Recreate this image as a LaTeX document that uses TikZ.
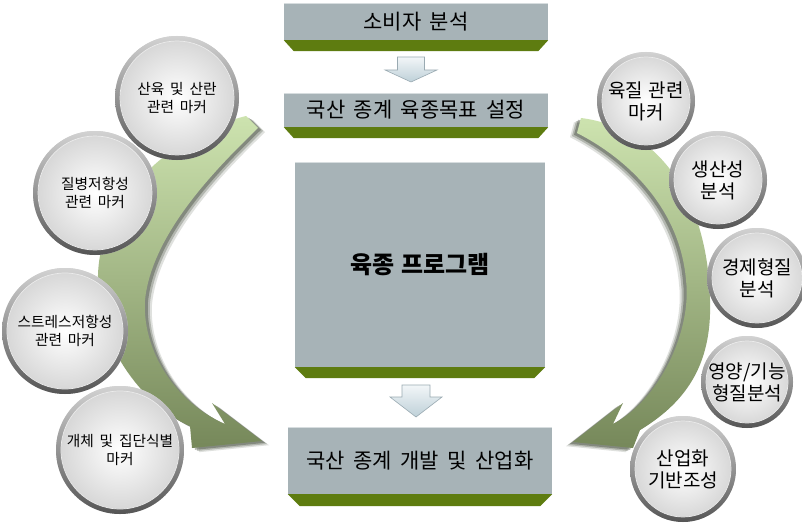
\documentclass[tikz,border=0pt]{standalone}
\usepackage{fontspec}
\setmainfont{Noto Sans CJK KR}
\usetikzlibrary{calc}
\definecolor{boxgray}{HTML}{A7B3B7}
\definecolor{bandgreen}{HTML}{5E7C10}
\definecolor{lgreen}{HTML}{CDE3AF}
\definecolor{mgreen}{HTML}{A9C28A}
\definecolor{dgreen}{HTML}{76885A}
\definecolor{shadowc}{HTML}{2E3824}
\definecolor{arrtop}{HTML}{F2F6F8}
\definecolor{arrbot}{HTML}{BED0D8}
\definecolor{arredge}{HTML}{9AAAB2}
\definecolor{rimlight}{HTML}{D2D2D2}
\definecolor{rimdark}{HTML}{555555}
\definecolor{discout}{HTML}{D4D4D4}
\newcommand\boxfnt{\fontsize{21}{25}\selectfont\spaceskip=0.4em\relax}
\newcommand\bigfnt{\fontsize{24}{28}\selectfont\bfseries\spaceskip=0.3em\relax}
\newcommand\cfntl{\fontsize{14.7}{18}\selectfont\spaceskip=0.4em\relax}
\newcommand\cfntr{\fontsize{19}{22}\selectfont\spaceskip=0.3em\relax}
\def\LApath{(246,116) -- (258,128) .. controls (220,165) and (152,232) .. (145,300) .. controls (142,345) and (170,400) .. (225,424) -- (212,403) -- (262,441) -- (192,448) -- (190,426) .. controls (140,405) and (92,335) .. (98,275) .. controls (100,200) and (170,135) .. (246,116) -- cycle}
\def\RApath{(581,118) -- (577,133) .. controls (630,160) and (680,210) .. (686,280) .. controls (692,330) and (660,400) .. (613,424) -- (623,403) -- (573,442) -- (633,448) -- (640,430) .. controls (690,400) and (712,360) .. (710,300) .. controls (708,200) and (660,128) .. (581,118) -- cycle}
\begin{document}
\begin{tikzpicture}[x=1pt,y=-1pt,
  gbox/.style={fill=boxgray, inner sep=0pt, text=black, font=\boxfnt},
  band/.style={fill=bandgreen},
  disc/.style={circle, inner sep=0pt, align=center, shading=radial, inner color=white, outer color=discout, text=black},
  rim/.style={top color=rimlight, bottom color=rimdark, even odd rule},
  downarr/.style={top color=arrtop, bottom color=arrbot, draw=arredge, line width=0.6pt}]
\useasboundingbox (0,0) rectangle (802,524);
\fill[white] (0,0) rectangle (802,524);

% boxes
\node[gbox, minimum width=264pt, minimum height=37pt] (b1) at (416,21.5) {소비자 분석};
\node[gbox, minimum width=264pt, minimum height=34pt] (b2) at (416,110) {국산 종계 육종목표 설정};
\node[gbox, minimum width=250pt, minimum height=205pt, font=\bigfnt] (b3) at (420,264.5) {육종 프로그램};
\node[gbox, minimum width=264pt, minimum height=67pt] (b4) at (420,460.5) {\raisebox{-8pt}{국산 종계 개발 및 산업화}};
\foreach \b/\h/\i in {b1/11/10, b2/11/10, b3/11/11, b4/12/12}{
  \fill[band] (\b.south west) -- (\b.south east) -- ([xshift=-\i pt,yshift=-\h pt]\b.south east) -- ([xshift=\i pt,yshift=-\h pt]\b.south west) -- cycle;
  \draw[white!55!boxgray, line width=1pt] ([yshift=-0.5pt]\b.north west) -- ([yshift=-0.5pt]\b.north east);
}

% down arrows
\coordinate (a1) at (411,57);
\coordinate (a2) at (416,385);
\shade[downarr] (a1) ++(-13.5,0) -- ++(27,0) -- ++(0,13) -- ++(12.5,0) -- ++(-26,12) -- ++(-26,-12) -- ++(12.5,0) -- cycle;
\shade[downarr] (a2) ++(-14,0) -- ++(28,0) -- ++(0,12) -- ++(12,0) -- ++(-26,20) -- ++(-26,-20) -- ++(12,0) -- cycle;

% curved arrows with shadows
\foreach \d/\o in {3/0.35, 5/0.25, 7/0.15}{
  \fill[shadowc, opacity=\o, shift={(\d,\d*0.6)}] \LApath;
  \fill[shadowc, opacity=\o, shift={(-\d,\d*0.6)}] \RApath;
}
\shade[top color=lgreen, middle color=mgreen, bottom color=dgreen] \LApath;
\shade[top color=lgreen, middle color=mgreen, bottom color=dgreen] \RApath;

% left circles
\node[disc, minimum size=124pt, font=\cfntl] (c1) at (177,98) {산육 및 산란\\관련 마커};
\node[disc, minimum size=124pt, font=\cfntl] (c2) at (95,193) {질병저항성\\관련 마커};
\node[disc, minimum size=126pt, font=\cfntl] (c3) at (65,331) {스트레스저항성\\관련 마커};
\node[disc, minimum size=128pt, font=\cfntl] (c4) at (120,450) {개체 및 집단식별\\마커};
% right circles
\node[disc, minimum size=98pt, font=\cfntr] (r1) at (646,101) {육질 관련\\마커};
\node[disc, minimum size=98pt, font=\cfntr] (r2) at (718,180) {생산성\\분석};
\node[disc, minimum size=100pt, font=\cfntr] (r3) at (757,278) {경제형질\\분석};
\node[disc, minimum size=92pt, font=\cfntr] (r4) at (747,382) {영양/기능\\형질분석};
\node[disc, minimum size=106pt, font=\cfntr] (r5) at (683,469) {산업화\\기반조성};

% rims
\foreach \n/\r in {c1/62, c2/62, c3/63, c4/64, r1/49, r2/49, r3/50, r4/46, r5/53}{
  \shade[rim] (\n.center) circle[radius=\r pt] circle[radius=\r pt - 5pt];
  \draw[white!85!gray, line width=0.7pt] (\n.center) circle[radius=\r pt - 5pt];
}
\end{tikzpicture}
\end{document}
